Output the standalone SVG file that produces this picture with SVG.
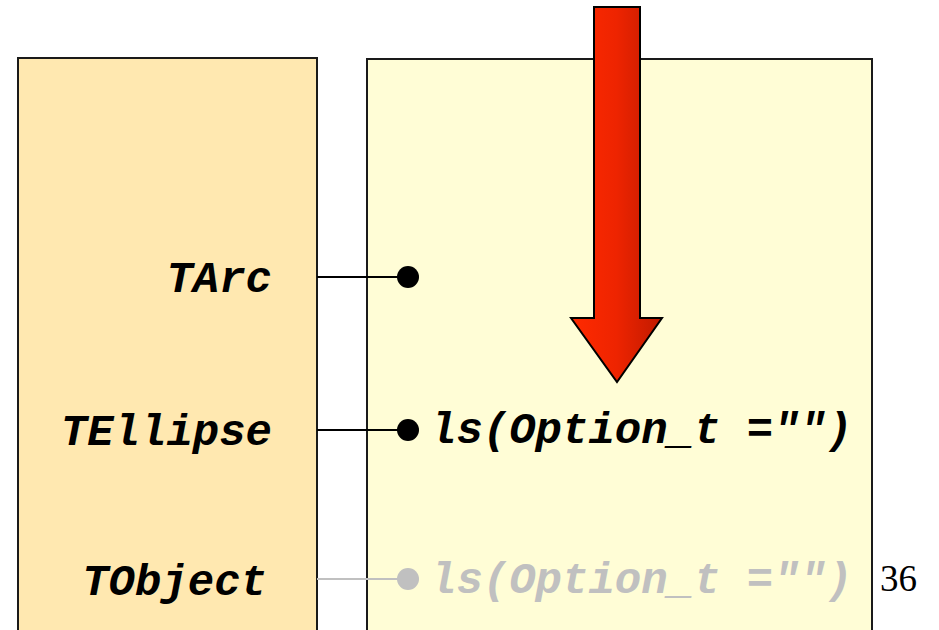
<svg xmlns="http://www.w3.org/2000/svg" width="939" height="630" viewBox="0 0 939 630">
<defs>
<linearGradient id="arrowGrad" x1="0" y1="0" x2="1" y2="0">
<stop offset="0" stop-color="#FF2A00"/>
<stop offset="0.5" stop-color="#EE2400"/>
<stop offset="1" stop-color="#C01A00"/>
</linearGradient>
</defs>
<style>
.lbl{font-family:"Liberation Mono","Courier New",monospace;font-weight:bold;font-style:italic;font-size:44px;}
.blk{fill:#000;}
.gry{fill:#C0C0C0;}
.box{stroke:#1a1a1a;stroke-width:2;}
.conn{stroke:#000;stroke-width:1.8;fill:none;}
.conng{stroke:#C0C0C0;stroke-width:1.8;fill:none;}
</style>
<rect width="939" height="630" fill="#fff"/>
<g id="left-box">
<rect x="18" y="58" width="299" height="600" fill="#FFE8B0" class="box"/>
<text class="lbl blk" x="272" y="292" text-anchor="end">TArc</text>
<text class="lbl blk" x="272" y="445" text-anchor="end">TEllipse</text>
<text class="lbl blk" x="267" y="595" text-anchor="end">TObject</text>
</g>
<g id="right-box">
<rect x="367" y="59" width="505" height="600" fill="#FFFDD6" class="box"/>
<text class="lbl blk" x="430" y="443">ls(Option_t ="")</text>
<text class="lbl gry" x="430" y="593">ls(Option_t ="")</text>
</g>
<g id="connectors">
<line x1="317" y1="277" x2="400" y2="277" class="conn"/>
<circle cx="408" cy="277" r="11" fill="#000"/>
<line x1="317" y1="430" x2="400" y2="430" class="conn"/>
<circle cx="408" cy="430" r="11" fill="#000"/>
<line x1="317" y1="579" x2="400" y2="579" class="conng"/>
<circle cx="408" cy="579" r="11" fill="#C0C0C0"/>
</g>
<g id="arrow">
<path d="M594 7 L640 7 L640 318 L662 318 L617 382 L571 318 L594 318 Z" fill="url(#arrowGrad)" stroke="#000" stroke-width="2" stroke-linejoin="miter"/>
</g>
<g id="page-number">
<text x="880" y="591" font-family="Liberation Serif,'Times New Roman',serif" font-size="37" fill="#000">36</text>
</g>
</svg>
